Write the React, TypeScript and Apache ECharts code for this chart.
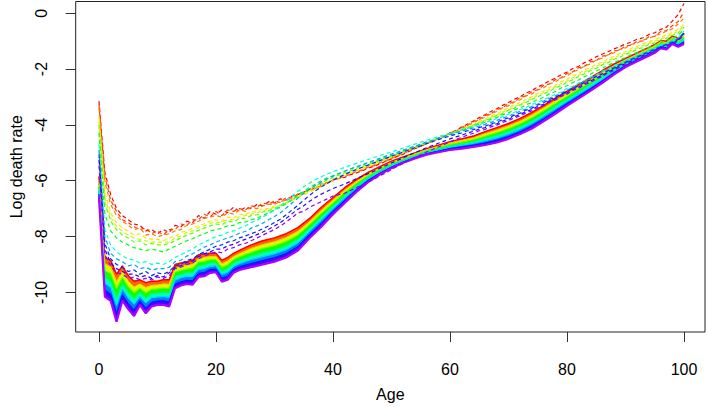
import React, { useEffect, useRef } from "react";
import * as echarts from "echarts";

// ---------- axes ----------
const ages: number[] = Array.from({ length: 101 }, (_, i) => i);
const xTicks = [0, 20, 40, 60, 80, 100];
const yTicks = [-10, -8, -6, -4, -2, 0];

// ---------- observed log death rates (dashed), earliest (red) to latest (violet) ----------
const obsRed = [
  -3.15, -5.7, -6.5, -7.0, -7.25, -7.4, -7.55, -7.6, -7.8, -7.75,
  -7.9, -7.75, -7.85, -7.6, -7.65, -7.45, -7.5, -7.25, -7.35, -7.1,
  -7.2, -7.05, -7.15, -6.95, -7.1, -6.95, -7.0, -6.85, -6.9, -6.75,
  -6.8, -6.65, -6.7, -6.55, -6.5, -6.4, -6.35, -6.25, -6.2, -6.05,
  -6.0, -5.92, -5.88, -5.78, -5.72, -5.65, -5.55, -5.48, -5.4, -5.3,
  -5.22, -5.12, -5.05, -4.95, -4.85, -4.76, -4.68, -4.58, -4.5, -4.4,
  -4.3, -4.2, -4.08, -3.97, -3.86, -3.74, -3.64, -3.52, -3.42, -3.3,
  -3.2, -3.08, -2.99, -2.86, -2.77, -2.64, -2.55, -2.42, -2.33, -2.2,
  -2.11, -1.98, -1.9, -1.77, -1.68, -1.56, -1.47, -1.38, -1.28, -1.2,
  -1.1, -1.03, -0.93, -0.88, -0.76, -0.7, -0.58, -0.5, -0.28, -0.05, 0.35,
];
const obsRedOrange = [
  -3.28, -5.85, -6.7, -7.1, -7.4, -7.5, -7.65, -7.75, -7.7, -7.9,
  -7.8, -7.95, -7.75, -7.75, -7.55, -7.6, -7.4, -7.4, -7.2, -7.3,
  -7.1, -7.25, -7.05, -7.1, -7.0, -7.05, -6.9, -6.95, -6.8, -6.85,
  -6.72, -6.78, -6.6, -6.62, -6.48, -6.42, -6.3, -6.25, -6.12, -6.1,
  -5.95, -5.93, -5.82, -5.78, -5.66, -5.63, -5.5, -5.47, -5.35, -5.3,
  -5.18, -5.13, -5.0, -4.95, -4.82, -4.77, -4.64, -4.6, -4.46, -4.42,
  -4.28, -4.23, -4.09, -4.02, -3.88, -3.81, -3.66, -3.6, -3.45, -3.38,
  -3.24, -3.17, -3.02, -2.96, -2.81, -2.74, -2.59, -2.53, -2.38, -2.31,
  -2.16, -2.1, -1.95, -1.9, -1.74, -1.7, -1.54, -1.51, -1.35, -1.33,
  -1.17, -1.15, -1.0, -0.99, -0.84, -0.83, -0.66, -0.62, -0.45, -0.3, 0.05,
];
const obsOrange = [
  -3.4, -6.05, -6.85, -7.25, -7.45, -7.6, -7.75, -7.7, -7.95, -7.9,
  -8.0, -7.95, -7.9, -7.8, -7.75, -7.6, -7.55, -7.45, -7.35, -7.3,
  -7.25, -7.3, -7.15, -7.2, -7.05, -7.1, -6.95, -7.0, -6.9, -6.85,
  -6.85, -6.75, -6.7, -6.62, -6.52, -6.45, -6.32, -6.28, -6.15, -6.08,
  -5.98, -5.9, -5.84, -5.75, -5.66, -5.6, -5.52, -5.44, -5.36, -5.27,
  -5.2, -5.1, -5.02, -4.93, -4.84, -4.75, -4.67, -4.58, -4.5, -4.41,
  -4.32, -4.21, -4.14, -4.01, -3.94, -3.8, -3.73, -3.6, -3.52, -3.39,
  -3.31, -3.18, -3.1, -2.96, -2.89, -2.75, -2.67, -2.53, -2.46, -2.32,
  -2.24, -2.1, -2.03, -1.89, -1.82, -1.68, -1.61, -1.49, -1.42, -1.3,
  -1.24, -1.12, -1.07, -0.96, -0.91, -0.8, -0.74, -0.64, -0.56, -0.38, -0.18,
];
const obsYellow = [
  -3.7, -6.4, -7.15, -7.5, -7.7, -7.8, -7.95, -7.9, -8.05, -8.1,
  -8.1, -8.15, -8.05, -8.0, -7.85, -7.8, -7.7, -7.6, -7.55, -7.45,
  -7.4, -7.45, -7.3, -7.35, -7.2, -7.22, -7.1, -7.12, -7.0, -7.0,
  -6.9, -6.88, -6.78, -6.7, -6.6, -6.5, -6.4, -6.3, -6.2, -6.1,
  -6.0, -5.9, -5.82, -5.72, -5.64, -5.56, -5.48, -5.4, -5.32, -5.24,
  -5.16, -5.07, -4.99, -4.9, -4.82, -4.73, -4.65, -4.57, -4.49, -4.41,
  -4.33, -4.24, -4.17, -4.06, -3.99, -3.87, -3.8, -3.68, -3.6, -3.48,
  -3.4, -3.28, -3.2, -3.08, -2.99, -2.87, -2.79, -2.66, -2.58, -2.45,
  -2.37, -2.24, -2.16, -2.03, -1.95, -1.83, -1.75, -1.63, -1.55, -1.44,
  -1.37, -1.26, -1.19, -1.09, -1.03, -0.93, -0.87, -0.77, -0.69, -0.57, -0.4,
];
const obsChartreuse = [
  -3.85, -6.6, -7.3, -7.65, -7.8, -7.95, -8.05, -8.1, -8.15, -8.2,
  -8.2, -8.2, -8.2, -8.05, -7.98, -7.85, -7.8, -7.68, -7.62, -7.52,
  -7.5, -7.48, -7.4, -7.38, -7.3, -7.25, -7.2, -7.15, -7.08, -7.02,
  -6.95, -6.88, -6.8, -6.68, -6.58, -6.45, -6.36, -6.24, -6.15, -6.04,
  -5.95, -5.85, -5.78, -5.68, -5.6, -5.52, -5.45, -5.37, -5.3, -5.21,
  -5.14, -5.05, -4.98, -4.89, -4.82, -4.73, -4.66, -4.56, -4.5, -4.4,
  -4.34, -4.25, -4.18, -4.08, -4.02, -3.91, -3.84, -3.73, -3.65, -3.54,
  -3.46, -3.35, -3.26, -3.15, -3.05, -2.94, -2.85, -2.73, -2.64, -2.52,
  -2.43, -2.31, -2.22, -2.1, -2.01, -1.9, -1.81, -1.7, -1.61, -1.51,
  -1.43, -1.33, -1.24, -1.16, -1.08, -1.0, -0.92, -0.84, -0.75, -0.64, -0.45,
];
const obsYellowGreen = [
  -4.0, -6.8, -7.45, -7.75, -7.95, -8.05, -8.2, -8.15, -8.3, -8.25,
  -8.3, -8.3, -8.25, -8.15, -8.05, -7.95, -7.88, -7.78, -7.7, -7.62,
  -7.55, -7.58, -7.45, -7.48, -7.35, -7.35, -7.25, -7.22, -7.12, -7.08,
  -6.98, -6.92, -6.8, -6.68, -6.55, -6.42, -6.3, -6.2, -6.08, -5.98,
  -5.88, -5.8, -5.72, -5.64, -5.56, -5.49, -5.42, -5.34, -5.27, -5.19,
  -5.12, -5.04, -4.96, -4.88, -4.8, -4.72, -4.64, -4.56, -4.48, -4.4,
  -4.33, -4.27, -4.17, -4.11, -4.01, -3.94, -3.84, -3.77, -3.66, -3.59,
  -3.47, -3.4, -3.28, -3.2, -3.08, -3.0, -2.88, -2.8, -2.67, -2.59,
  -2.47, -2.38, -2.26, -2.17, -2.05, -1.97, -1.85, -1.77, -1.65, -1.58,
  -1.47, -1.4, -1.29, -1.23, -1.12, -1.06, -0.96, -0.9, -0.79, -0.71, -0.5,
];
const obsGreen = [
  -4.3, -7.2, -7.8, -8.05, -8.2, -8.3, -8.4, -8.45, -8.5, -8.45,
  -8.5, -8.55, -8.45, -8.35, -8.25, -8.15, -8.08, -7.98, -7.9, -7.8,
  -7.75, -7.7, -7.62, -7.6, -7.5, -7.48, -7.4, -7.35, -7.25, -7.15,
  -7.05, -6.95, -6.82, -6.68, -6.52, -6.38, -6.24, -6.12, -6.0, -5.9,
  -5.82, -5.74, -5.66, -5.58, -5.51, -5.44, -5.37, -5.3, -5.23, -5.16,
  -5.09, -5.01, -4.93, -4.85, -4.77, -4.7, -4.62, -4.55, -4.48, -4.41,
  -4.34, -4.26, -4.21, -4.12, -4.06, -3.96, -3.9, -3.8, -3.74, -3.63,
  -3.57, -3.46, -3.39, -3.28, -3.2, -3.09, -3.01, -2.89, -2.81, -2.68,
  -2.6, -2.48, -2.39, -2.27, -2.19, -2.07, -1.98, -1.86, -1.78, -1.67,
  -1.59, -1.48, -1.41, -1.3, -1.23, -1.13, -1.07, -0.97, -0.91, -0.79, -0.58,
];
const obsCyan = [
  -4.7, -7.75, -8.3, -8.55, -8.7, -8.8, -8.85, -8.95, -8.9, -9.0,
  -8.95, -9.0, -8.9, -8.75, -8.65, -8.55, -8.45, -8.3, -8.2, -8.1,
  -8.0, -7.95, -7.85, -7.8, -7.7, -7.62, -7.5, -7.42, -7.3, -7.18,
  -7.05, -6.9, -6.72, -6.55, -6.38, -6.22, -6.08, -5.96, -5.86, -5.76,
  -5.68, -5.6, -5.52, -5.45, -5.38, -5.31, -5.24, -5.17, -5.1, -5.03,
  -4.97, -4.9, -4.83, -4.76, -4.69, -4.62, -4.55, -4.49, -4.42, -4.36,
  -4.3, -4.25, -4.17, -4.13, -4.05, -4.0, -3.91, -3.86, -3.77, -3.71,
  -3.61, -3.55, -3.45, -3.38, -3.27, -3.2, -3.09, -3.01, -2.9, -2.82,
  -2.7, -2.62, -2.5, -2.41, -2.29, -2.21, -2.08, -2.0, -1.88, -1.8,
  -1.68, -1.61, -1.5, -1.42, -1.31, -1.25, -1.14, -1.08, -0.97, -0.89, -0.64,
];
const obsAzure = [
  -4.9, -8.0, -8.6, -8.8, -8.9, -9.05, -9.0, -9.15, -9.1, -9.2,
  -9.15, -9.15, -9.1, -8.9, -8.85, -8.7, -8.62, -8.5, -8.38, -8.3,
  -8.2, -8.12, -8.05, -7.98, -7.88, -7.82, -7.7, -7.62, -7.52, -7.4,
  -7.28, -7.15, -6.98, -6.8, -6.62, -6.46, -6.3, -6.16, -6.05, -5.94,
  -5.84, -5.75, -5.66, -5.57, -5.5, -5.42, -5.35, -5.27, -5.2, -5.12,
  -5.05, -4.98, -4.9, -4.83, -4.76, -4.69, -4.61, -4.55, -4.48, -4.41,
  -4.35, -4.3, -4.23, -4.17, -4.11, -4.04, -3.98, -3.91, -3.84, -3.76,
  -3.68, -3.6, -3.51, -3.43, -3.34, -3.25, -3.15, -3.05, -2.96, -2.86,
  -2.76, -2.66, -2.55, -2.45, -2.34, -2.24, -2.13, -2.03, -1.93, -1.83,
  -1.73, -1.63, -1.54, -1.45, -1.36, -1.27, -1.18, -1.1, -1.01, -0.92, -0.68,
];
const obsBlue = [
  -5.05, -8.25, -8.8, -9.0, -9.1, -9.25, -9.2, -9.35, -9.25, -9.4,
  -9.3, -9.35, -9.25, -9.05, -9.0, -8.85, -8.8, -8.65, -8.55, -8.45,
  -8.35, -8.3, -8.2, -8.15, -8.05, -7.98, -7.9, -7.82, -7.72, -7.62,
  -7.5, -7.38, -7.22, -7.05, -6.88, -6.7, -6.52, -6.36, -6.22, -6.1,
  -5.98, -5.88, -5.78, -5.68, -5.6, -5.52, -5.44, -5.36, -5.28, -5.2,
  -5.12, -5.05, -4.97, -4.89, -4.82, -4.75, -4.67, -4.6, -4.53, -4.46,
  -4.4, -4.33, -4.29, -4.21, -4.17, -4.09, -4.05, -3.96, -3.91, -3.81,
  -3.75, -3.65, -3.58, -3.47, -3.4, -3.29, -3.21, -3.09, -3.01, -2.89,
  -2.81, -2.69, -2.6, -2.48, -2.39, -2.27, -2.18, -2.06, -1.97, -1.85,
  -1.77, -1.66, -1.58, -1.47, -1.4, -1.29, -1.22, -1.12, -1.05, -0.94, -0.72,
];
const obsIndigo = [
  -5.25, -8.45, -8.95, -9.15, -9.25, -9.35, -9.35, -9.45, -9.4, -9.5,
  -9.4, -9.45, -9.3, -9.1, -9.05, -8.92, -8.88, -8.72, -8.62, -8.55,
  -8.45, -8.45, -8.33, -8.28, -8.18, -8.1, -8.02, -7.93, -7.84, -7.74,
  -7.62, -7.5, -7.35, -7.18, -7.02, -6.9, -6.74, -6.6, -6.48, -6.38,
  -6.28, -6.2, -6.12, -6.02, -5.93, -5.84, -5.75, -5.66, -5.55, -5.46,
  -5.36, -5.27, -5.18, -5.08, -5.0, -4.91, -4.82, -4.74, -4.66, -4.58,
  -4.5, -4.43, -4.37, -4.29, -4.23, -4.15, -4.1, -4.01, -3.96, -3.86,
  -3.8, -3.7, -3.63, -3.52, -3.45, -3.33, -3.26, -3.14, -3.06, -2.94,
  -2.86, -2.73, -2.65, -2.52, -2.44, -2.31, -2.23, -2.1, -2.02, -1.89,
  -1.81, -1.7, -1.62, -1.51, -1.43, -1.32, -1.25, -1.15, -1.08, -0.97, -0.75,
];
const obsViolet = [
  -5.45, -8.65, -9.05, -9.3, -9.35, -9.5, -9.45, -9.55, -9.5, -9.55,
  -9.45, -9.5, -9.4, -9.15, -9.1, -9.0, -8.95, -8.8, -8.7, -8.62,
  -8.55, -8.58, -8.45, -8.4, -8.3, -8.25, -8.15, -8.05, -7.95, -7.85,
  -7.75, -7.62, -7.48, -7.32, -7.15, -7.1, -6.95, -6.85, -6.75, -6.65,
  -6.55, -6.5, -6.45, -6.35, -6.25, -6.15, -6.05, -5.95, -5.82, -5.72,
  -5.6, -5.48, -5.38, -5.27, -5.17, -5.07, -4.97, -4.88, -4.79, -4.7,
  -4.61, -4.52, -4.45, -4.36, -4.3, -4.21, -4.16, -4.07, -4.01, -3.91,
  -3.85, -3.75, -3.68, -3.57, -3.5, -3.38, -3.31, -3.18, -3.11, -2.98,
  -2.9, -2.77, -2.69, -2.56, -2.48, -2.35, -2.27, -2.14, -2.06, -1.93,
  -1.85, -1.73, -1.65, -1.54, -1.46, -1.35, -1.28, -1.17, -1.1, -0.99, -0.78,
];

// ---------- forecast log death rates (solid band), first (red) to last (violet) ----------
const fcAges = [
  0, 1, 2, 3, 4, 5, 6, 7, 8, 9, 10, 11, 12, 13, 14, 15, 16, 17, 18, 19, 20, 21, 22, 23, 24,
  26, 28, 30, 32, 34, 36, 38, 40, 42, 44, 46, 48, 50, 52, 54, 56, 58, 60, 62, 64, 66, 68, 70,
  72, 74, 76, 78, 80, 82, 84, 86, 88, 90, 92, 94, 95, 96, 97, 98, 99, 100,
];
const fcRed = [
  -5.85, -8.75, -8.85, -9.35, -9.05, -9.4, -9.6, -9.55, -9.65, -9.6, -9.6, -9.55, -9.55, -9.0, -8.95, -8.9, -8.85, -8.65, -8.62, -8.6, -8.6, -8.85, -8.75, -8.6, -8.5,
  -8.3, -8.15, -8.05, -7.9, -7.68, -7.35, -6.95, -6.6, -6.25, -5.95, -5.7, -5.5, -5.3, -5.15, -5.0, -4.85, -4.73, -4.6, -4.5, -4.4, -4.24, -4.1, -3.95,
  -3.77, -3.55, -3.3, -3.04, -2.79, -2.55, -2.31, -2.06, -1.82, -1.62, -1.42, -1.22, -1.12, -0.98, -1.0, -0.82, -0.9, -0.72,
];
const fcOrange = [
  -5.98, -8.98, -9.09, -9.62, -9.26, -9.6, -9.81, -9.7, -9.83, -9.75, -9.74, -9.7, -9.71, -9.14, -9.08, -9.03, -9.0, -8.78, -8.75, -8.72, -8.71, -8.98, -8.88, -8.72, -8.62,
  -8.43, -8.29, -8.19, -8.04, -7.82, -7.47, -7.07, -6.7, -6.34, -6.03, -5.76, -5.55, -5.34, -5.19, -5.03, -4.89, -4.77, -4.65, -4.56, -4.47, -4.32, -4.19, -4.04,
  -3.87, -3.65, -3.4, -3.14, -2.89, -2.64, -2.4, -2.14, -1.89, -1.67, -1.47, -1.27, -1.17, -1.02, -1.05, -0.87, -0.95, -0.78,
];
const fcYellow = [
  -6.1, -9.22, -9.33, -9.88, -9.47, -9.8, -10.02, -9.85, -10.02, -9.9, -9.88, -9.85, -9.87, -9.28, -9.22, -9.17, -9.14, -8.92, -8.89, -8.83, -8.83, -9.11, -9.02, -8.83, -8.73,
  -8.57, -8.43, -8.33, -8.18, -7.95, -7.58, -7.18, -6.8, -6.43, -6.1, -5.82, -5.59, -5.38, -5.22, -5.07, -4.92, -4.81, -4.7, -4.62, -4.53, -4.41, -4.28, -4.14,
  -3.96, -3.75, -3.5, -3.24, -2.98, -2.72, -2.47, -2.21, -1.95, -1.72, -1.52, -1.32, -1.22, -1.07, -1.1, -0.91, -1.0, -0.85,
];
const fcGreen = [
  -6.23, -9.45, -9.58, -10.2, -9.68, -10.0, -10.23, -10.0, -10.2, -10.05, -10.03, -10.0, -10.03, -9.43, -9.35, -9.3, -9.29, -9.05, -9.02, -8.95, -8.94, -9.24, -9.15, -8.95, -8.85,
  -8.7, -8.58, -8.48, -8.33, -8.09, -7.7, -7.3, -6.9, -6.53, -6.18, -5.88, -5.64, -5.43, -5.26, -5.1, -4.96, -4.86, -4.75, -4.68, -4.6, -4.48, -4.37, -4.23,
  -4.06, -3.85, -3.6, -3.33, -3.07, -2.81, -2.55, -2.28, -2.02, -1.78, -1.57, -1.37, -1.27, -1.11, -1.15, -0.96, -1.05, -0.91,
];
const fcCyan = [
  -6.35, -9.68, -9.82, -10.48, -9.88, -10.2, -10.43, -10.15, -10.38, -10.2, -10.17, -10.15, -10.18, -9.57, -9.48, -9.43, -9.43, -9.18, -9.15, -9.07, -9.05, -9.36, -9.28, -9.07, -8.97,
  -8.83, -8.72, -8.62, -8.47, -8.23, -7.82, -7.42, -7.0, -6.62, -6.25, -5.93, -5.69, -5.47, -5.29, -5.13, -5.0, -4.9, -4.8, -4.73, -4.66, -4.57, -4.47, -4.33,
  -4.16, -3.95, -3.7, -3.43, -3.16, -2.9, -2.64, -2.37, -2.08, -1.83, -1.62, -1.42, -1.32, -1.16, -1.2, -1.01, -1.1, -0.97,
];
const fcBlue = [
  -6.48, -9.92, -10.06, -10.76, -10.09, -10.4, -10.64, -10.3, -10.57, -10.35, -10.31, -10.3, -10.34, -9.71, -9.62, -9.57, -9.58, -9.32, -9.29, -9.18, -9.17, -9.49, -9.42, -9.18, -9.08,
  -8.97, -8.86, -8.76, -8.61, -8.36, -7.93, -7.53, -7.1, -6.71, -6.33, -5.99, -5.73, -5.51, -5.33, -5.17, -5.03, -4.94, -4.85, -4.79, -4.73, -4.65, -4.55, -4.42,
  -4.25, -4.04, -3.79, -3.52, -3.24, -2.98, -2.71, -2.43, -2.14, -1.88, -1.67, -1.47, -1.37, -1.2, -1.25, -1.05, -1.15, -1.04,
];
const fcViolet = [
  -6.6, -10.15, -10.3, -11.05, -10.3, -10.6, -10.85, -10.45, -10.75, -10.5, -10.45, -10.45, -10.5, -9.85, -9.75, -9.7, -9.72, -9.45, -9.42, -9.3, -9.28, -9.62, -9.55, -9.3, -9.2,
  -9.1, -9.0, -8.9, -8.75, -8.5, -8.05, -7.65, -7.2, -6.8, -6.4, -6.05, -5.78, -5.55, -5.36, -5.2, -5.07, -4.98, -4.9, -4.85, -4.79, -4.72, -4.63, -4.5,
  -4.33, -4.13, -3.87, -3.6, -3.32, -3.05, -2.78, -2.5, -2.2, -1.93, -1.72, -1.52, -1.42, -1.25, -1.3, -1.1, -1.2, -1.1,
];

// ---------- styling helpers ----------
function hsvHex(h: number): string {
  const i = Math.floor(h * 6);
  const f = h * 6 - i;
  const q = 1 - f;
  let r = 0, g = 0, b = 0;
  switch (((i % 6) + 6) % 6) {
    case 0: r = 1; g = f; b = 0; break;
    case 1: r = q; g = 1; b = 0; break;
    case 2: r = 0; g = 1; b = f; break;
    case 3: r = 0; g = q; b = 1; break;
    case 4: r = f; g = 0; b = 1; break;
    default: r = 1; g = 0; b = q; break;
  }
  const hx = (v: number) => Math.round(v * 255).toString(16).padStart(2, "0");
  return "#" + hx(r) + hx(g) + hx(b);
}

const FONT = "Liberation Sans, Arial, Helvetica, sans-serif";

function buildOption() {
  const obsCurves = [
    obsRed, obsRedOrange, obsOrange, obsYellow, obsChartreuse, obsYellowGreen,
    obsGreen, obsCyan, obsAzure, obsBlue, obsIndigo, obsViolet,
  ];
  const obsHues = [0, 0.04, 0.08, 0.15, 0.21, 0.27, 0.35, 0.48, 0.56, 0.64, 0.7, 0.76];
  const fcCurves = [fcRed, fcOrange, fcYellow, fcGreen, fcCyan, fcBlue, fcViolet];
  const fcHues = [0, 0.13, 0.26, 0.39, 0.52, 0.65, 0.78];

  const series: any[] = [];

  // forecast band: filled stripes between consecutive forecast curves
  for (let k = 0; k < fcCurves.length - 1; k++) {
    const upper = fcCurves[k];
    const lower = fcCurves[k + 1];
    const fill = hsvHex((fcHues[k] + fcHues[k + 1]) / 2);
    series.push({
      type: "custom",
      coordinateSystem: "cartesian2d",
      silent: true,
      z: 2,
      data: [[50, -5]],
      renderItem: (_params: any, api: any) => {
        const pts: number[][] = [];
        for (let i = 0; i < fcAges.length; i++) pts.push(api.coord([fcAges[i], upper[i]]));
        for (let i = fcAges.length - 1; i >= 0; i--) pts.push(api.coord([fcAges[i], lower[i]]));
        return {
          type: "polygon",
          shape: { points: pts },
          style: { fill, stroke: fill, lineWidth: 0.6 },
        };
      },
    });
  }
  // forecast curves themselves (thin solid lines)
  fcCurves.forEach((arr, k) => {
    const last = k === fcCurves.length - 1;
    series.push({
      type: "line",
      data: fcAges.map((a, i) => [a, arr[i]]),
      symbol: "none",
      silent: true,
      lineStyle: { color: hsvHex(fcHues[k]), width: last ? 2.2 : k === 0 ? 1.4 : 1 },
      z: 2,
    });
  });

  // observed curves, dashed
  obsCurves.forEach((arr, j) => {
    series.push({
      type: "line",
      data: ages.map((a, i) => [a, arr[i]]),
      symbol: "none",
      silent: true,
      lineStyle: { color: hsvHex(obsHues[j]), width: 1.2, type: [4, 3] },
      z: 3,
    });
  });

  return {
    animation: false,
    backgroundColor: "#ffffff",
    grid: {
      left: 75.7,
      top: 1.5,
      width: 629.3,
      height: 333.2,
      show: true,
      borderColor: "#222",
      borderWidth: 1,
      backgroundColor: "transparent",
      containLabel: false,
    },
    xAxis: {
      type: "value",
      min: -3.98,
      max: 103.59,
      axisLine: { show: false, onZero: false },
      axisTick: { show: true, length: 10, lineStyle: { color: "#333", width: 1 }, customValues: xTicks },
      axisLabel: { customValues: xTicks, margin: 29, fontSize: 16, color: "#000", fontFamily: FONT },
      splitLine: { show: false },
      name: "Age",
      nameLocation: "middle",
      nameGap: 54,
      nameTextStyle: { fontSize: 16, color: "#000", fontFamily: FONT },
    },
    yAxis: {
      type: "value",
      min: -11.42,
      max: 0.42,
      axisLine: { show: false, onZero: false },
      axisTick: { show: true, length: 10, lineStyle: { color: "#333", width: 1 }, customValues: yTicks },
      axisLabel: { customValues: yTicks, rotate: 90, margin: 26, fontSize: 16, color: "#000", fontFamily: FONT },
      splitLine: { show: false },
      name: "Log death rate",
      nameLocation: "middle",
      nameGap: 51,
      nameTextStyle: { fontSize: 16, color: "#000", fontFamily: FONT },
    },
    series,
  };
}

export default function App() {
  const ref = useRef<HTMLDivElement>(null);
  useEffect(() => {
    document.body.style.margin = "0";
    const chart = echarts.init(ref.current!, null, { renderer: "svg" });
    chart.setOption(buildOption() as any);
    return () => chart.dispose();
  }, []);
  return <div ref={ref} style={{ width: 708, height: 407 }} />;
}
